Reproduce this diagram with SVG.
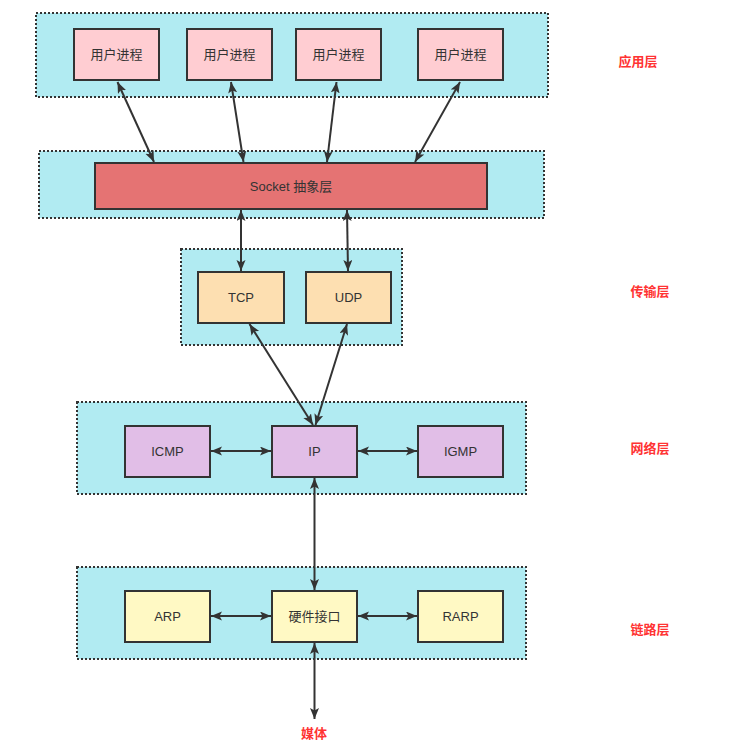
<svg xmlns="http://www.w3.org/2000/svg" width="739" height="752" viewBox="0 0 739 752">
<style>
.layer{fill:#b1ebf2;stroke:#333;stroke-width:2;stroke-dasharray:2 2}
.box{stroke:#333;stroke-width:2}
.pink{fill:#ffcdd2}
.red{fill:#e57373}
.orange{fill:#fddfb1}
.purple{fill:#e1bee7}
.yellow{fill:#fff9c4}
.t{font-family:"Liberation Sans","Noto Sans CJK SC",sans-serif;font-size:13px;fill:#333;text-anchor:middle;dominant-baseline:central}
.lab{font-family:"Liberation Sans","Noto Sans CJK SC",sans-serif;font-size:13px;font-weight:bold;fill:#ff3333;text-anchor:middle;dominant-baseline:central}
.c line{stroke:#333;stroke-width:2;marker-start:url(#ah);marker-end:url(#ah)}
</style>
<defs>
<marker id="ah" markerUnits="userSpaceOnUse" markerWidth="12" markerHeight="10" refX="11" refY="4.5" orient="auto-start-reverse">
<path d="M0,0 L11,4.5 L0,9 L2.5,4.5 z" fill="#333"/>
</marker>
</defs>
<g id="layers">
<rect class="layer" x="36" y="13" width="512" height="84"/>
<rect class="layer" x="39" y="151" width="505" height="67"/>
<rect class="layer" x="181" y="249" width="221" height="96"/>
<rect class="layer" x="77" y="402" width="449" height="92"/>
<rect class="layer" x="77" y="567" width="449" height="92"/>
</g>
<g id="p1"><rect class="box pink" x="74" y="29" width="85" height="51"/><text class="t" x="116.5" y="54.5">用户进程</text></g>
<g id="p2"><rect class="box pink" x="187" y="29" width="85" height="51"/><text class="t" x="229.5" y="54.5">用户进程</text></g>
<g id="p3"><rect class="box pink" x="296" y="29" width="85" height="51"/><text class="t" x="338.5" y="54.5">用户进程</text></g>
<g id="p4"><rect class="box pink" x="418" y="29" width="85" height="51"/><text class="t" x="460.5" y="54.5">用户进程</text></g>
<g id="socket"><rect class="box red" x="95" y="163" width="392" height="46"/><text class="t" x="291" y="186">Socket 抽象层</text></g>
<g id="tcp"><rect class="box orange" x="198" y="272" width="86" height="51"/><text class="t" x="241" y="297.5">TCP</text></g>
<g id="udp"><rect class="box orange" x="306" y="272" width="85" height="51"/><text class="t" x="348.5" y="297.5">UDP</text></g>
<g id="icmp"><rect class="box purple" x="125" y="426" width="85" height="51"/><text class="t" x="167.5" y="451.5">ICMP</text></g>
<g id="ip"><rect class="box purple" x="272" y="426" width="85" height="51"/><text class="t" x="314.5" y="451.5">IP</text></g>
<g id="igmp"><rect class="box purple" x="418" y="426" width="85" height="51"/><text class="t" x="460.5" y="451.5">IGMP</text></g>
<g id="arp"><rect class="box yellow" x="125" y="591" width="85" height="51"/><text class="t" x="167.5" y="616.5">ARP</text></g>
<g id="hw"><rect class="box yellow" x="272" y="591" width="85" height="51"/><text class="t" x="314.5" y="616.5">硬件接口</text></g>
<g id="rarp"><rect class="box yellow" x="418" y="591" width="85" height="51"/><text class="t" x="460.5" y="616.5">RARP</text></g>
<g id="medium"><text class="lab" x="314" y="733">媒体</text></g>
<g id="labels">
<text class="lab" x="638" y="61">应用层</text>
<text class="lab" x="650" y="291">传输层</text>
<text class="lab" x="650" y="448">网络层</text>
<text class="lab" x="650" y="629">链路层</text>
</g>
<g id="connectors" class="c">
<line x1="117.5" y1="82" x2="154" y2="162"/>
<line x1="231" y1="82" x2="243.5" y2="162"/>
<line x1="336.5" y1="82" x2="327" y2="162"/>
<line x1="460" y1="82" x2="415" y2="162"/>
<line x1="241" y1="210" x2="241" y2="271"/>
<line x1="347" y1="210" x2="348" y2="271"/>
<line x1="249.5" y1="324" x2="313" y2="425"/>
<line x1="347" y1="324" x2="315.5" y2="425"/>
<line x1="211" y1="451" x2="271" y2="451"/>
<line x1="358" y1="451" x2="417" y2="451"/>
<line x1="314.5" y1="478" x2="314.5" y2="590"/>
<line x1="211" y1="616" x2="271" y2="616"/>
<line x1="358" y1="616" x2="417" y2="616"/>
<line x1="314.5" y1="643" x2="314.5" y2="719"/>
</g>
</svg>
